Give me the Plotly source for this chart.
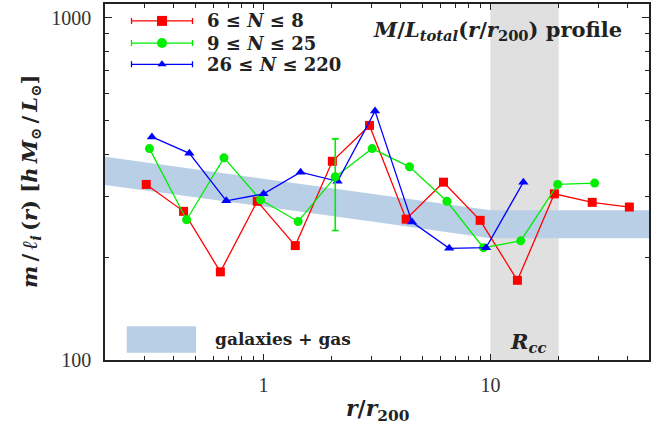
import plotly.graph_objects as go

# --- data -------------------------------------------------------------
# 6 <= N <= 8
r_red = [0.304, 0.444, 0.645, 0.938, 1.38, 2.01, 2.93, 4.25, 6.21, 9.01, 13.15, 19.14, 28.1, 40.96]
ml_red = [326, 272, 181, 291, 216, 381, 485, 258, 331, 256, 171, 306, 289, 280]

# 9 <= N <= 25
r_green = [0.314, 0.458, 0.669, 0.97, 1.42, 2.07, 3.01, 4.40, 6.43, 9.31, 13.6, 19.8, 28.8]
ml_green = [415, 257, 390, 294, 254, 343, 415, 367, 291, 213, 223, 326, 329]
# single plotted error bar of the green series
r_green_err = [2.07]
ml_green_err = [343]
err_green_plus = [100]
err_green_minus = [104]

# 26 <= N <= 220
r_blue = [0.322, 0.471, 0.685, 1.0, 1.456, 2.12, 3.10, 4.51, 6.58, 9.57, 13.97]
ml_blue = [449, 402, 292, 306, 354, 333, 534, 253, 212, 213, 331]

# galaxies + gas M/L_total profile band
band_r = [0.2, 1.0, 3.0, 10.0, 50.0]
band_lo = [325, 281, 254, 227, 227]
band_hi = [393, 339, 306, 274, 274]

# R_cc region
rcc_lo, rcc_hi = 10, 20

x_ticks = [1, 10]
y_ticks = [100, 1000]
x_minor = [0.2, 0.3, 0.4, 0.5, 0.6, 0.7, 0.8, 0.9, 2, 3, 4, 5, 6, 7, 8, 9, 20, 30, 40, 50]
y_minor = [200, 300, 400, 500, 600, 700, 800, 900]

RED, GREEN, BLUE = "#ff0000", "#00ee00", "#0000ff"
BAND = "#b8cfe6"
SERIF = "DejaVu Serif"
TICKFONT = "Liberation Serif"
INK = "#222"
THIN = "\u2009"

fig = go.Figure()

# band
fig.add_trace(go.Scatter(x=band_r, y=band_lo, mode="lines", line=dict(width=0),
                         hoverinfo="skip", showlegend=False))
fig.add_trace(go.Scatter(x=band_r, y=band_hi, mode="lines", line=dict(width=0),
                         fill="tonexty", fillcolor=BAND, hoverinfo="skip", showlegend=False))

series = [
    (r_red, ml_red, RED, "square", 9),
    (r_green, ml_green, GREEN, "circle", 9),
    (r_blue, ml_blue, BLUE, "triangle-up", 9),
]
for rx, ry, col, sym, sz in series:
    fig.add_trace(go.Scatter(x=rx, y=ry, mode="lines+markers",
                             line=dict(color=col, width=1.3),
                             marker=dict(symbol=sym, size=sz, color=col, line=dict(width=0)),
                             showlegend=False))

fig.add_trace(go.Scatter(x=r_green_err, y=ml_green_err, mode="markers",
                         marker=dict(symbol="circle", size=9, color=GREEN),
                         error_y=dict(type="data", symmetric=False, array=err_green_plus,
                                      arrayminus=err_green_minus, color=GREEN,
                                      thickness=1.6, width=3.5),
                         showlegend=False))

# plot area in pixels
W, H = 659, 432
L, R, T, B = 105, 10, 2, 72
PW, PH = W - L - R, H - T - B


def px(xp):
    return (xp - L) / PW


def py(yp):
    return (H - B - yp) / PH


# legend samples on an overlay axis in plot-area fractions
legend_rows = [
    ("<b>6 ≤ <i>N</i> ≤ 8</b>", RED, "square", 19),
    ("<b>9 ≤ <i>N</i> ≤ 25</b>", GREEN, "circle", 41.3),
    ("<b>26 ≤ <i>N</i> ≤ 220</b>", BLUE, "triangle-up", 62.7),
]
annotations = []
for label, col, sym, yrow in legend_rows:
    fig.add_trace(go.Scatter(x=[px(162)], y=[py(yrow)], xaxis="x2", yaxis="y2",
                             mode="markers",
                             marker=dict(symbol=sym, size=10 if sym != "triangle-up" else 8,
                                         color=col),
                             error_x=dict(type="data", array=[30.5 / PW], color=col,
                                          thickness=1.3, width=3),
                             showlegend=False, hoverinfo="skip"))
    annotations.append(dict(x=px(205), y=py(yrow), xref="paper", yref="paper",
                            text=label, showarrow=False, xanchor="left", yanchor="middle",
                            font=dict(family=SERIF, size=18, color=INK)))

shapes = [
    dict(type="rect", xref="x", yref="paper", x0=rcc_lo, x1=rcc_hi, y0=0, y1=1,
         fillcolor="#e0e0e0", line=dict(width=0), layer="below"),
    dict(type="rect", xref="paper", yref="paper", x0=px(126.7), x1=px(196),
         y0=py(352.7), y1=py(326), fillcolor=BAND, line=dict(width=0)),
]

ylabel = ("<b><i>m</i>" + THIN + "/" + THIN + "<i>ℓ<sub>i</sub></i>" + THIN + "(<i>r</i>) "
          "[<i>h" + THIN + "M</i><sub>⊙</sub>" + THIN + "/" + THIN + "<i>L</i><sub>⊙</sub>]</b>")

annotations += [
    dict(x=px(213), y=py(339), xref="paper", yref="paper", text="<b>galaxies + gas</b>",
         showarrow=False, xanchor="left", yanchor="middle",
         font=dict(family=SERIF, size=17, color=INK)),
    dict(x=px(528), y=py(342), xref="paper", yref="paper",
         text="<b><i>R<sub>cc</sub></i></b>", showarrow=False, xanchor="center",
         yanchor="middle", font=dict(family=SERIF, size=21, color=INK)),
    dict(x=px(371), y=py(29), xref="paper", yref="paper",
         text="<b><i>M</i>/<i>L<sub>total</sub></i>(<i>r</i>/<i>r</i><sub>200</sub>) profile</b>",
         showarrow=False, xanchor="left", yanchor="middle",
         font=dict(family=SERIF, size=21, color=INK)),
    dict(x=px(377), y=py(410), xref="paper", yref="paper",
         text="<b><i>r</i>/<i>r</i><sub>200</sub></b>", showarrow=False,
         xanchor="center", yanchor="middle", font=dict(family=SERIF, size=22, color=INK)),
    dict(x=px(30), y=0.5, xref="paper", yref="paper", textangle=-90,
         text=ylabel, showarrow=False, xanchor="center", yanchor="middle",
         font=dict(family=SERIF, size=21, color=INK)),
]

axis_common = dict(showline=True, linecolor=INK, linewidth=1.5, mirror="ticks",
                   ticks="inside", tickcolor=INK, tickwidth=1, showgrid=False,
                   zeroline=False, tickfont=dict(family=TICKFONT, size=20, color="#333"))

fig.update_layout(
    width=W, height=H,
    margin=dict(l=L, r=R, t=T, b=B),
    paper_bgcolor="white", plot_bgcolor="white",
    showlegend=False,
    xaxis=dict(type="log", range=[-0.69897, 1.69897], tickvals=x_ticks,
               ticktext=[str(v) for v in x_ticks], ticklen=6, ticklabelstandoff=6,
               minor=dict(tickvals=x_minor, ticks="inside", ticklen=4, tickcolor=INK),
               **axis_common),
    yaxis=dict(type="log", range=[2, 3.0407], tickvals=y_ticks,
               ticktext=[str(v) for v in y_ticks], ticklen=7, ticklabelstandoff=8,
               minor=dict(tickvals=y_minor, ticks="inside", ticklen=4, tickcolor=INK),
               **axis_common),
    xaxis2=dict(overlaying="x", range=[0, 1], visible=False, fixedrange=True),
    yaxis2=dict(overlaying="y", range=[0, 1], visible=False, fixedrange=True),
    shapes=shapes,
    annotations=annotations,
)

fig.write_html("out.html")
